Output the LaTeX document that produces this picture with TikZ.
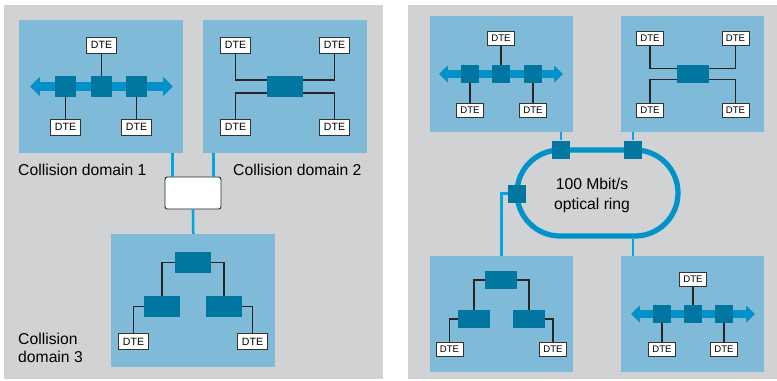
\documentclass[tikz,border=0pt]{standalone}
\usepackage{fontspec}
\setmainfont{Liberation Sans}
\usetikzlibrary{arrows.meta, calc, shapes.misc}

\definecolor{panelgray}{HTML}{D1D2D4}
\definecolor{lanblue}{HTML}{7FBAD8}
\definecolor{devblue}{HTML}{0076A1}
\definecolor{busblue}{HTML}{0092C8}
\definecolor{fibreblue}{HTML}{00A6E2}

\begin{document}
\begin{tikzpicture}[
  x=0.3mm, y=-0.3mm,
  font=\fontsize{13.4}{16}\selectfont,
  lan/.style={
    fill=lanblue,
    anchor=north west,
    inner sep=0,
    minimum width=49.2mm,
    minimum height=39.9mm
  },
  lansm/.style={lan, minimum width=42.9mm, minimum height=34.8mm},
  dte/.style={
    draw=black!80,
    fill=white,
    line width=0.8pt,
    inner sep=0,
    minimum width=9mm,
    minimum height=4.8mm,
    font=\fontsize{9}{10}\selectfont
  },
  dtesm/.style={dte, minimum width=8.1mm, minimum height=4.2mm, font=\fontsize{8.2}{9}\selectfont},
  rep/.style={fill=devblue, inner sep=0, minimum size=6.3mm},
  repsm/.style={rep, minimum size=5.4mm},
  sw/.style={fill=devblue, inner sep=0, minimum width=10.8mm, minimum height=6.3mm},
  swsm/.style={sw, minimum width=9.6mm, minimum height=5.4mm},
  hubbox/.style={
    draw=black!85,
    fill=white,
    line width=0.8pt,
    rounded corners=2pt,
    minimum width=16.8mm,
    minimum height=9.6mm
  },
  ring/.style={
    draw=busblue,
    line width=4.5pt,
    rounded rectangle,
    inner sep=0,
    minimum width=48.3mm,
    minimum height=25.8mm
  },
  link/.style={draw=black!85, line width=1.2pt},
  fibre/.style={draw=fibreblue, line width=2.2pt},
  bus/.style={draw=busblue, line width=7pt, {Triangle[length=8.5pt, width=16pt]}-{Triangle[length=8.5pt, width=16pt]}},
  bussm/.style={draw=busblue, line width=6pt, {Triangle[length=7.5pt, width=14pt]}-{Triangle[length=7.5pt, width=14pt]}},
  label/.style={anchor=west, inner sep=0, align=left}
]
\useasboundingbox (0,0) rectangle (777,380);

% ---------- left panel: three collision domains and a hub ----------
\fill[panelgray] (4,5) rectangle (383,379);
\node[lan] (dom1) at (19,20) {};
\node[lan] (dom2) at (203,20) {};
\node[lan] (dom3) at (111,234) {};

% domain 1: bus with three repeaters
\coordinate (bus1w) at (30,86.5);
\coordinate (bus1e) at (173,86.5);
\draw[bus] (bus1w) -- (bus1e);
\node[rep] (r11) at (65.5,86.5) {};
\node[rep] (r12) at (101.5,86.5) {};
\node[rep] (r13) at (136.5,86.5) {};
\node[dte] (d11) at (101.5,45) {DTE};
\node[dte] (d12) at (65.5,127) {DTE};
\node[dte] (d13) at (136.5,127) {DTE};
\draw[link] (d11) -- (r12);
\draw[link] (r11) -- (d12);
\draw[link] (r13) -- (d13);

% domain 2: star around one switch
\node[sw] (s21) at (285,86.5) {};
\node[dte] (d21) at (235.5,45) {DTE};
\node[dte] (d22) at (334.5,45) {DTE};
\node[dte] (d23) at (235.5,127) {DTE};
\node[dte] (d24) at (334.5,127) {DTE};
\draw[link] (d21.south) |- ($(s21.north west)!0.2!(s21.south west)$);
\draw[link] (d22.south) |- ($(s21.north east)!0.2!(s21.south east)$);
\draw[link] (d23.north) |- ($(s21.north west)!0.8!(s21.south west)$);
\draw[link] (d24.north) |- ($(s21.north east)!0.8!(s21.south east)$);

% domain 3: tree
\node[sw] (s31) at (193,262.5) {};
\node[sw] (s32) at (162,306.5) {};
\node[sw] (s33) at (224,306.5) {};
\node[dte] (d31) at (133.5,341.5) {DTE};
\node[dte] (d32) at (252.5,341.5) {DTE};
\draw[link] (s31.west) -| (s32.north);
\draw[link] (s31.east) -| (s33.north);
\draw[link] (s32.west) -| (d31.north);
\draw[link] (s33.east) -| (d32.north);

% hub and its links
\node[hubbox] (hub) at (193,193) {};
\coordinate (hubin1) at ([xshift=2.4mm]hub.north west);
\coordinate (hubin2) at ([xshift=-2.4mm]hub.north east);
\draw[fibre] (hubin1) -- (hubin1 |- dom1.south);
\draw[fibre] (hubin2) -- (hubin2 |- dom2.south);
\draw[fibre] (hub.south) -- (dom3.north);

\node[label] (lab1) at (18,170) {Collision domain 1};
\node[label] (lab2) at (233,170) {Collision domain 2};
\node[label] (lab3) at (18,348) {Collision\\domain 3};

% ---------- right panel: four networks on an optical ring ----------
\fill[panelgray] (408,5) rectangle (777,379);
\node[lansm] (net1) at (430,16) {};
\node[lansm] (net2) at (621,16) {};
\node[lansm] (net3) at (430,256) {};
\node[lansm] (net4) at (621,256) {};

% ring with three stations
\node[ring] (ring) at (597.5,193) {};
\node[align=center, font=\fontsize{13.4}{17}\selectfont] (ringtxt) at (592,195) {100 Mbit/s\\optical ring};
\node[repsm] (st1) at (561,149.5) {};
\node[repsm] (st2) at (633,149.5) {};
\node[repsm] (st3) at (517,193.5) {};
\draw[fibre] (st1.north) -- (st1.north |- net1.south);
\draw[fibre] (st2.north) -- (st2.north |- net2.south);
\draw[fibre] (st3.west) -| (net3.north);
\draw[fibre] (st2 |- ring.south) -- (st2 |- net4.north);

% network 1: bus
\coordinate (bus2w) at (439,74);
\coordinate (bus2e) at (563,74);
\draw[bussm] (bus2w) -- (bus2e);
\node[repsm] (r21) at (470,74) {};
\node[repsm] (r22) at (501,74) {};
\node[repsm] (r23) at (533,74) {};
\node[dtesm] (e11) at (501,38) {DTE};
\node[dtesm] (e12) at (470,110) {DTE};
\node[dtesm] (e13) at (533,110) {DTE};
\draw[link] (e11) -- (r22);
\draw[link] (r21) -- (e12);
\draw[link] (r23) -- (e13);

% network 2: star
\node[swsm] (s41) at (693,74) {};
\node[dtesm] (e21) at (650,38) {DTE};
\node[dtesm] (e22) at (735.5,38) {DTE};
\node[dtesm] (e23) at (650,110) {DTE};
\node[dtesm] (e24) at (735.5,110) {DTE};
\draw[link] (e21.south) |- ($(s41.north west)!0.2!(s41.south west)$);
\draw[link] (e22.south) |- ($(s41.north east)!0.2!(s41.south east)$);
\draw[link] (e23.north) |- ($(s41.north west)!0.8!(s41.south west)$);
\draw[link] (e24.north) |- ($(s41.north east)!0.8!(s41.south east)$);

% network 3: tree
\node[swsm] (s51) at (501,280) {};
\node[swsm] (s52) at (474,319) {};
\node[swsm] (s53) at (529,319) {};
\node[dtesm] (e31) at (449.5,349.5) {DTE};
\node[dtesm] (e32) at (553,349.5) {DTE};
\draw[link] (s51.west) -| (s52.north);
\draw[link] (s51.east) -| (s53.north);
\draw[link] (s52.west) -| (e31.north);
\draw[link] (s53.east) -| (e32.north);

% network 4: bus
\coordinate (bus3w) at (631,314);
\coordinate (bus3e) at (755,314);
\draw[bussm] (bus3w) -- (bus3e);
\node[repsm] (r31) at (662,314) {};
\node[repsm] (r32) at (693,314) {};
\node[repsm] (r33) at (724,314) {};
\node[dtesm] (e41) at (693,279) {DTE};
\node[dtesm] (e42) at (662,349.5) {DTE};
\node[dtesm] (e43) at (724,349.5) {DTE};
\draw[link] (e41) -- (r32);
\draw[link] (r31) -- (e42);
\draw[link] (r33) -- (e43);

\end{tikzpicture}
\end{document}
